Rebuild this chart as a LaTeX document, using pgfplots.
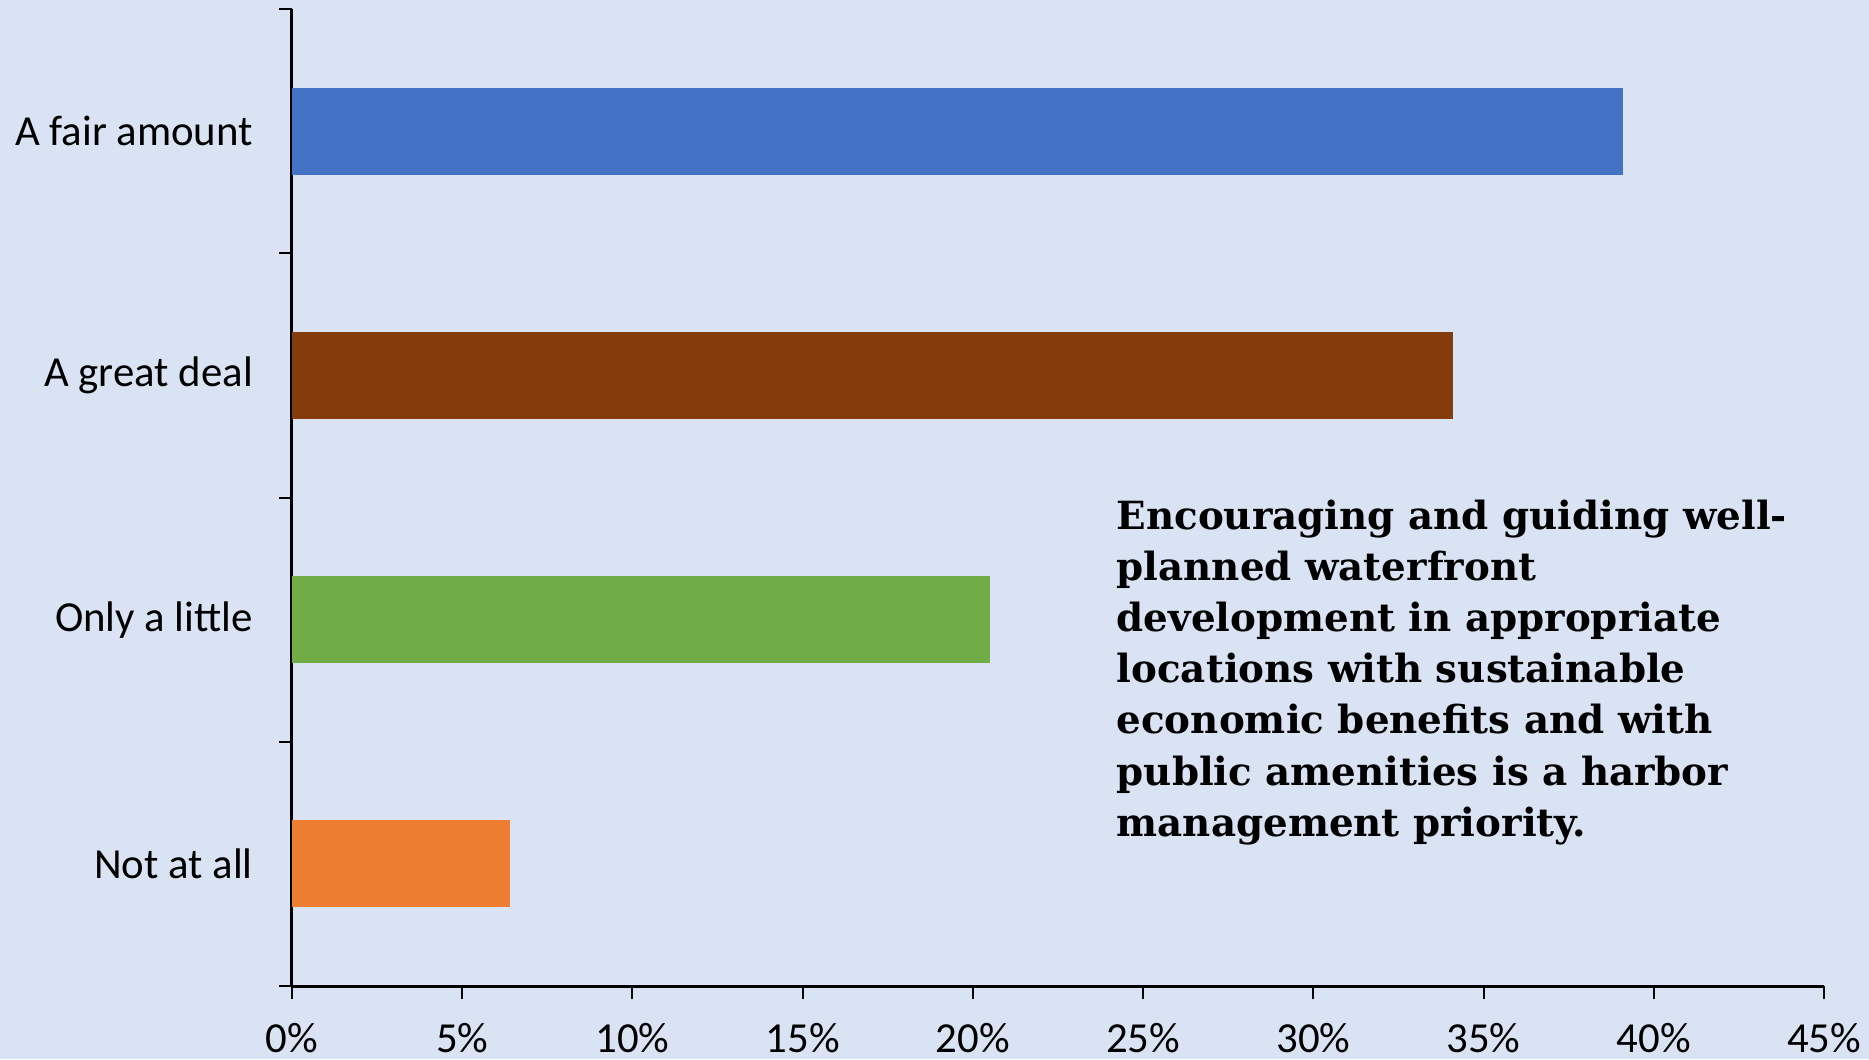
\documentclass[border=0pt]{standalone}
\usepackage{fontspec}
\setmainfont{Carlito}
\newfontfamily\notefont{DejaVu Serif}
\usepackage{pgfplots}
\pgfplotsset{compat=1.18}
\definecolor{bgblue}{HTML}{DAE3F3}
\definecolor{cBlue}{HTML}{4472C4}
\definecolor{cBrown}{HTML}{843C0C}
\definecolor{cGreen}{HTML}{70AD47}
\definecolor{cOrange}{HTML}{ED7D31}

\begin{document}
\begin{tikzpicture}
\useasboundingbox (-73pt,-18.25pt) rectangle (394.25pt,246.5pt);
\fill[bgblue] (-73pt,-18.25pt) rectangle (394.25pt,246.5pt);
\begin{axis}[
  at = {(0pt,0pt)}, anchor = south west,
  scale only axis,
  width = 383pt,
  height = 244.25pt,
  xmin = 0, xmax = 45,
  ymin = -0.5, ymax = 3.5,
  axis lines = left,
  axis line style = {-, line width=0.75pt},
  xbar, bar width = 0.356, bar shift = 0pt,
  xtick = {0,5,...,45},
  xticklabel = {\pgfmathprintnumber{\tick}\%},
  ytick = {-0.5,0.5,1.5,2.5,3.5},
  yticklabels = {},
  extra y ticks = {0,1,2,3},
  extra y tick labels = {Not at all, Only a little, A great deal, A fair amount},
  extra y tick style = {major tick length=0pt},
  tick align = outside,
  major tick length = 3.25pt,
  tick style = {black, line width=0.5pt},
  tick label style = {font=\fontsize{10.7}{12.8}\selectfont, black},
  xticklabel style = {anchor=north, inner sep=0pt, yshift=-5.8pt},
  yticklabel style = {anchor=east, inner sep=0pt, xshift=-9.6pt},
  /pgf/number format/assume math mode=true,
]
\addplot[fill=cOrange, draw=none] coordinates {(6.4,0)};
\addplot[fill=cGreen,  draw=none] coordinates {(20.5,1)};
\addplot[fill=cBrown,  draw=none] coordinates {(34.1,2)};
\addplot[fill=cBlue,   draw=none] coordinates {(39.1,3)};
\node[anchor=north west, inner sep=0pt, align=left,
      font=\notefont\bfseries\fontsize{9.7}{12.8}\selectfont]
  at (axis cs:24.2,1.495)
  {Encouraging and guiding well-\\
   planned waterfront\\
   development in appropriate\\
   locations with sustainable\\
   economic benefits and with\\
   public amenities is a harbor\\
   management priority.};
\end{axis}
\end{tikzpicture}
\end{document}
